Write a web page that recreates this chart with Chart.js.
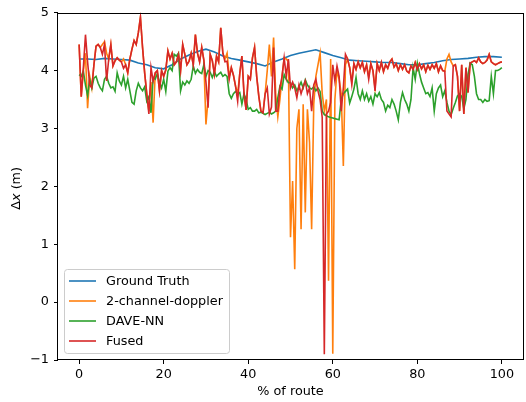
<!DOCTYPE html>
<html>
<head>
<meta charset="utf-8">
<script src="https://cdn.jsdelivr.net/npm/chart.js@4.4.0/dist/chart.umd.min.js"></script>
<style>
  html, body { margin: 0; padding: 0; background: #fff; }
  #wrap { width: 526px; height: 402px; position: relative; }
</style>
</head>
<body>
<div id="wrap"><canvas id="route-chart" width="526" height="402"></canvas></div>
<script>
// x positions (% of route) for the noisy estimates, every 0.5 %
const routePct = Array.from({ length: 201 }, (_, i) => i / 2);
// ground truth is smooth, sampled every 2 %
const truthPct = Array.from({ length: 51 }, (_, i) => i * 2);

const groundTruth = [
  4.20, 4.20, 4.19, 4.21, 4.20, 4.19, 4.18, 4.13, 4.10, 4.05,
  4.03, 4.10, 4.20, 4.27, 4.33, 4.37, 4.32, 4.25, 4.21, 4.18,
  4.15, 4.12, 4.08, 4.15, 4.20, 4.26, 4.30, 4.33, 4.36, 4.31,
  4.26, 4.22, 4.18, 4.17, 4.16, 4.15, 4.14, 4.14, 4.12, 4.10,
  4.10, 4.12, 4.14, 4.17, 4.19, 4.20, 4.21, 4.23, 4.24, 4.24,
  4.23
];

const doppler = [
  4.45, 3.55, 4.0, 4.3, 3.35, 3.9, 3.7, 4.1, 4.42, 4.45, 4.4, 4.45, 4.5, 4.3, 4.2, 4.45, 4.08, 4.17, 4.22, 4.18,
  4.15, 4.2, 4.1, 3.96, 4.2, 4.37, 4.52, 4.45, 4.65, 4.92, 4.4, 3.96, 3.6, 3.3, 3.8, 3.1, 3.96, 4.0, 3.65, 4.0,
  3.9, 4.0, 4.34, 4.2, 4.3, 4.1, 4.15, 4.28, 4.0, 4.45, 4.28, 4.1, 4.16, 4.3, 4.1, 4.62, 4.3, 4.15, 4.4, 4.18,
  3.07, 3.5, 4.28, 4.17, 3.94, 4.25, 4.15, 4.74, 4.3, 4.2, 4.3, 3.9, 4.05, 3.92, 3.73, 3.6, 3.95, 4.25, 3.6, 3.32,
  3.9, 3.85, 4.22, 4.4, 3.9, 3.56, 3.3, 3.27, 3.6, 4.0, 4.45, 3.9, 4.57, 3.6, 3.2, 3.5, 3.9, 4.22, 4.2, 4.15,
  1.12, 2.09, 0.57, 3.0, 3.33, 1.26, 3.42, 1.55, 3.33, 2.76, 1.26, 3.42, 3.9, 4.1, 4.3, 3.6, 3.3, 3.5, 0.37, 4.2,
  -0.89, 3.5, 4.0, 3.85, 3.6, 2.35, 4.1, 4.2, 4.05, 3.8, 4.12, 4.02, 4.15, 4.05, 4.14, 3.98, 4.1, 3.9, 4.12, 4.0,
  3.7, 4.12, 4.0, 4.14, 3.98, 4.1, 4.04, 4.15, 4.2, 4.06, 4.12, 4.0, 4.1, 4.02, 4.1, 3.99, 3.96, 4.08, 4.02, 4.14,
  4.02, 4.12, 4.03, 4.1, 3.98, 4.09, 4.02, 4.1, 4.04, 4.12, 3.98, 4.08, 4.0, 3.99, 4.2, 4.28, 4.15, 4.08, 4.1, 3.9,
  3.3, 4.1, 3.25, 4.05, 3.62, 4.13, 4.15, 4.17, 4.14, 4.22, 4.15, 4.12, 4.14, 4.18, 4.28, 4.15, 4.12, 4.1, 4.12, 4.14,
  4.15
];

const daveNN = [
  3.93, 3.9, 3.99, 3.75, 3.57, 3.85, 3.7, 3.87, 3.9, 3.78, 3.7, 3.65, 3.85, 3.9, 3.78, 3.7, 3.72, 3.64, 3.96, 3.82,
  3.75, 3.9, 3.7, 3.85, 3.65, 3.45, 3.42, 3.65, 3.78, 3.7, 3.65, 3.72, 3.47, 3.55, 3.27, 3.88, 3.85, 3.95, 3.8, 3.7,
  3.85, 3.64, 3.99, 4.05, 4.0, 4.28, 4.25, 4.3, 3.65, 3.8, 3.75, 3.82, 3.78, 3.85, 4.08, 3.95, 4.02, 3.97, 3.95, 4.1,
  3.9, 4.0, 3.97, 3.88, 3.98, 3.9, 3.94, 3.97, 3.9, 3.93, 3.9, 3.6, 3.52, 3.6, 3.64, 3.6, 3.62, 3.42, 3.6, 3.5,
  3.33, 3.36, 3.3, 3.3, 3.33, 3.27, 3.28, 3.26, 3.24, 3.26, 3.28, 3.25, 3.27, 3.3, 3.53, 3.73, 3.68, 3.93, 3.85, 3.79,
  3.79, 3.7, 3.75, 3.65, 3.72, 3.8, 3.7, 3.84, 3.75, 3.7, 3.68, 3.72, 3.65, 3.7, 3.64, 3.3, 3.24, 3.22, 3.2, 3.19,
  3.18, 3.17, 3.16, 3.15, 3.5, 3.6, 3.64, 3.68, 3.44, 3.55, 3.68, 3.88, 3.6, 3.5, 3.65, 3.5, 3.6, 3.47, 3.55, 3.42,
  3.6, 3.55, 3.62, 3.5, 3.45, 3.3, 3.4, 3.36, 3.5, 3.42, 3.3, 3.15, 3.45, 3.62, 3.5, 3.42, 3.3, 3.5, 4.05, 3.85,
  4.13, 3.95, 3.8, 3.7, 3.6, 3.62, 3.55, 3.7, 3.3, 3.6, 3.7, 3.75, 3.55, 3.65, 3.45, 3.3, 3.24, 3.35, 3.45, 3.56,
  3.6, 3.55, 3.34, 3.5, 3.93, 4.13, 4.1, 3.9, 3.6, 3.5, 3.5, 3.45, 3.5, 3.47, 3.48, 3.9, 3.6, 4.0, 4.0, 4.02,
  4.05
];

const fused = [
  4.45, 3.55, 4.05, 4.62, 4.15, 3.75, 3.7, 4.1, 4.42, 4.45, 4.4, 4.28, 4.45, 3.82, 4.2, 4.45, 4.08, 4.17, 4.22, 4.18,
  4.15, 4.04, 4.1, 3.96, 4.2, 4.37, 4.52, 4.45, 4.65, 4.92, 4.4, 3.96, 3.6, 3.25, 4.05, 3.82, 3.96, 4.0, 3.65, 4.0,
  3.9, 4.02, 4.34, 4.2, 4.3, 4.1, 4.15, 4.28, 4.0, 4.45, 4.28, 4.1, 4.16, 4.3, 4.1, 4.62, 4.3, 4.15, 4.4, 4.18,
  3.8, 3.36, 4.28, 4.17, 3.94, 4.25, 4.15, 4.74, 4.3, 4.15, 4.16, 3.85, 4.05, 3.92, 3.73, 3.47, 3.95, 4.25, 3.6, 3.32,
  3.9, 3.85, 4.22, 4.4, 3.9, 3.56, 3.3, 3.27, 3.6, 3.7, 3.25, 3.37, 4.4, 3.3, 3.3, 3.7, 3.9, 4.22, 3.9, 4.2,
  3.7, 3.8, 3.7, 3.53, 3.75, 3.6, 3.72, 3.82, 3.6, 3.7, 3.3, 3.75, 3.85, 3.65, 3.5, 3.19, -0.9, 3.25, 3.3, 3.45,
  4.1, 3.82, 4.08, 3.9, 3.3, 3.7, 4.28, 4.2, 4.05, 3.76, 4.12, 4.02, 4.15, 4.05, 4.14, 3.98, 4.1, 3.85, 4.12, 4.0,
  3.65, 4.12, 4.0, 4.14, 3.98, 4.1, 4.04, 4.15, 4.2, 4.06, 4.12, 4.0, 4.1, 4.02, 4.1, 3.99, 3.96, 4.08, 4.02, 4.14,
  4.02, 4.12, 4.03, 4.1, 3.98, 4.09, 4.02, 4.1, 4.04, 4.12, 3.98, 4.08, 4.0, 3.99, 3.3, 3.25, 3.2, 4.08, 4.1, 3.9,
  3.3, 4.1, 3.25, 4.05, 3.62, 4.13, 4.15, 4.17, 4.14, 4.22, 4.15, 4.12, 4.14, 4.18, 4.28, 4.15, 4.12, 4.1, 4.12, 4.14,
  4.15
];

const xTicks = [0, 20, 40, 60, 80, 100];
const yTicks = [-1, 0, 1, 2, 3, 4, 5];

const FONT = { family: 'DejaVu Sans', size: 12.8 };

document.addEventListener('DOMContentLoaded', function () {
  const pairUp = (xs, ys) => ys.map((y, i) => ({ x: xs[i], y: y }));

  const makeLine = (label, xs, ys, color, order) => ({
    label: label,
    data: pairUp(xs, ys),
    borderColor: color,
    borderWidth: 1.6,
    pointRadius: 0,
    tension: 0,
    fill: false,
    order: order,
  });

  // matplotlib style box around the axes
  const framePlugin = {
    id: 'frame',
    afterDatasetsDraw(chart) {
      const { ctx, chartArea: a } = chart;
      ctx.save();
      ctx.strokeStyle = '#000';
      ctx.lineWidth = 1;
      ctx.strokeRect(Math.round(a.left) - 0.5, Math.round(a.top) + 0.5,
        Math.round(a.right - a.left) + 1, Math.round(a.bottom - a.top) - 1);
      ctx.restore();
    }
  };

  // y label with italic x
  const yTitlePlugin = {
    id: 'yTitle',
    afterDraw(chart) {
      const { ctx, chartArea: a } = chart;
      const parts = [
        ['Δ', 'normal'],
        ['x', 'italic'],
        [' (m)', 'normal'],
      ];
      ctx.save();
      ctx.translate(17, (a.top + a.bottom) / 2 + 2);
      ctx.rotate(-Math.PI / 2);
      ctx.fillStyle = '#000';
      ctx.textBaseline = 'middle';
      let total = 0;
      parts.forEach(p => {
        ctx.font = `${p[1]} ${FONT.size}px "${FONT.family}"`;
        total += ctx.measureText(p[0]).width;
      });
      let x = -total / 2;
      parts.forEach(p => {
        ctx.font = `${p[1]} ${FONT.size}px "${FONT.family}"`;
        ctx.fillText(p[0], x, 0);
        x += ctx.measureText(p[0]).width;
      });
      ctx.restore();
    }
  };

  // legend in the lower left corner of the axes
  const cornerLegend = {
    id: 'cornerLegend',
    afterDraw(chart) {
      const { ctx, chartArea: a } = chart;
      const items = chart.data.datasets;
      const left = a.left + 6, top = a.bottom - 91, w = 165, h = 84;
      ctx.save();
      ctx.beginPath();
      ctx.roundRect(left + 0.5, top + 0.5, w, h, 3);
      ctx.fillStyle = 'rgba(255,255,255,0.8)';
      ctx.fill();
      ctx.strokeStyle = '#cccccc';
      ctx.lineWidth = 1;
      ctx.stroke();
      ctx.font = `${FONT.size}px "${FONT.family}"`;
      ctx.textBaseline = 'middle';
      items.forEach((ds, i) => {
        const y = top + 12 + i * 20;
        ctx.beginPath();
        ctx.moveTo(left + 5, y);
        ctx.lineTo(left + 32, y);
        ctx.strokeStyle = ds.borderColor;
        ctx.lineWidth = 1.6;
        ctx.stroke();
        ctx.fillStyle = '#000';
        ctx.fillText(ds.label, left + 42, y + 1);
      });
      ctx.restore();
    }
  };

  const ctx = document.getElementById('route-chart').getContext('2d');
  new Chart(ctx, {
    type: 'line',
    data: {
      datasets: [
        makeLine('Ground Truth', truthPct, groundTruth, '#1f77b4', 3),
        makeLine('2-channel-doppler', routePct, doppler, '#ff7f0e', 2),
        makeLine('DAVE-NN', routePct, daveNN, '#2ca02c', 1),
        makeLine('Fused', routePct, fused, '#d62728', 0),
      ],
    },
    options: {
      responsive: false,
      animation: false,
      layout: { padding: { top: 10, right: 3, left: 0, bottom: 0 } },
      plugins: {
        legend: { display: false },
        tooltip: { enabled: false },
      },
      scales: {
        x: {
          type: 'linear',
          min: -5,
          max: 105,
          afterBuildTicks: (scale) => { scale.ticks = xTicks.map(v => ({ value: v })); },
          afterFit: (scale) => { scale.height = 42; },
          border: { display: false },
          grid: { drawOnChartArea: false, drawTicks: true, tickLength: 4, color: '#000' },
          ticks: { color: '#000', font: FONT, padding: 3, maxRotation: 0 },
          title: { display: true, text: '% of route', color: '#000', font: FONT, padding: { top: 0, bottom: 3 } },
        },
        y: {
          min: -1,
          max: 5,
          afterBuildTicks: (scale) => { scale.ticks = yTicks.map(v => ({ value: v })); },
          afterFit: (scale) => { scale.width = 58; },
          border: { display: false },
          grid: { drawOnChartArea: false, drawTicks: true, tickLength: 4, color: '#000' },
          ticks: {
            color: '#000',
            font: FONT,
            padding: 5,
            callback: (v) => (v < 0 ? '\u2212' + Math.abs(v) : String(v)),
          },
        },
      },
    },
    plugins: [framePlugin, yTitlePlugin, cornerLegend],
  });
});
</script>
</body>
</html>
